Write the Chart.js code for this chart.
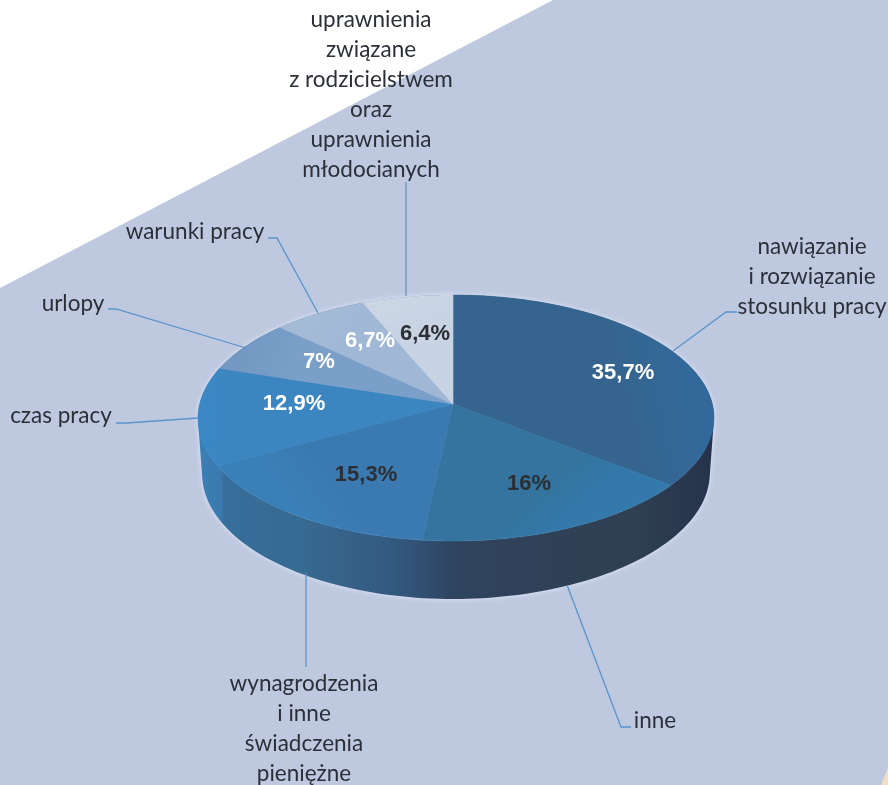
<!DOCTYPE html>
<html lang="pl">
<head>
<meta charset="utf-8">
<title>Wykres</title>
<script src="https://cdn.jsdelivr.net/npm/chart.js@4"></script>
<style>
  html, body { margin: 0; padding: 0; background: #fff; }
  canvas { display: block; }
</style>
</head>
<body>
<canvas id="pieChart" width="888" height="785"></canvas>
<script>
/* ---------- Data ---------- */
const categories = [
  'nawiązanie i rozwiązanie stosunku pracy',
  'inne',
  'wynagrodzenia i inne świadczenia pieniężne',
  'czas pracy',
  'urlopy',
  'warunki pracy',
  'uprawnienia związane z rodzicielstwem oraz uprawnienia młodocianych'
];
const shares = [35.7, 16, 15.3, 12.9, 7, 6.7, 6.4];
const sliceColors = ['#35658f', '#34749f', '#3a7ab0', '#3b85c0', '#7a9fc8', '#a0b8d5', '#c8d3e3'];
const rimColors   = ['#33699a', '#3379ac', '#3a80b8', '#3c88c4', '#7398c2', '#a3bbd7', '#cbd6e5'];
const shareTextColors = ['#fff', '#2b2f33', '#2b2f33', '#fff', '#fff', '#fff', '#2b2f33'];

/* ---------- Layout ---------- */
const sharePos = [[623, 373], [529, 484], [366, 475], [294, 404], [319, 362], [370, 341], [425, 334]];
const outerLabels = [
  { x: 812, y: 247, lines: ['nawiązanie', 'i rozwiązanie', 'stosunku pracy'] },
  { x: 655, y: 721, lines: ['inne'] },
  { x: 304, y: 684, lines: ['wynagrodzenia', 'i inne', 'świadczenia', 'pieniężne'] },
  { x: 61,  y: 416, lines: ['czas pracy'] },
  { x: 73,  y: 304, lines: ['urlopy'] },
  { x: 195, y: 232, lines: ['warunki pracy'] },
  { x: 371, y: 20,  lines: ['uprawnienia', 'związane', 'z rodzicielstwem', 'oraz', 'uprawnienia', 'młodocianych'] }
];
const leaders = [
  [[673, 351], [726, 312], [737, 312]],
  [[567, 585], [621, 727], [631, 727]],
  [[306, 573], [306, 667]],
  [[116, 423], [127, 423], [198, 418]],
  [[108, 309], [116, 309], [246, 348]],
  [[268, 238], [277, 238], [318, 313]],
  [[406, 182], [406, 296]]
];

/* ---------- Tilted disc, apex sits above the ellipse centre ---------- */
const APEX_X = 453, APEX_Y = 404, DISC_A = 256.3, DISC_B = 121.4, PERSP = 0.1138;

function rimPoint(angle, r) {
  const u = Math.cos(angle) * r, v = Math.sin(angle) * r;
  const w = 1 - PERSP * v;
  return { x: APEX_X + DISC_A * u / w + 3 * u * u, y: APEX_Y + DISC_B * v / w };
}
function floorPoint(angle) {
  const p = rimPoint(angle, 1);
  return { x: 456 + (p.x - 456) * 0.984, y: p.y + 55 + 3 * Math.sin(angle) };
}

function drawWall(ctx) {
  const wall = ctx.createLinearGradient(198, 0, 714, 0);
  [[0, '#3c80b6'], [0.045, '#3a7aae'], [0.05, '#366e9b'], [0.2, '#376a92'], [0.38, '#33597f'],
   [0.44, '#314e70'], [0.5, '#2f445e'], [0.6, '#30425a'], [0.85, '#2f4052'], [1, '#26324c']]
    .forEach(s => wall.addColorStop(s[0], s[1]));
  const steps = 240;
  ctx.beginPath();
  for (let i = 0; i < steps; i++) {
    const a = i / steps * Math.PI * 2, b = (i + 1) / steps * Math.PI * 2;
    let quad = [rimPoint(a, 1), rimPoint(b, 1), floorPoint(b), floorPoint(a)];
    // keep one winding, front and back quads overlap near the sides
    let area = 0;
    quad.forEach((p, k) => {
      const n = quad[(k + 1) % 4];
      area += p.x * n.y - n.x * p.y;
    });
    if (area < 0) quad = quad.reverse();
    quad.forEach((p, k) => k ? ctx.lineTo(p.x, p.y) : ctx.moveTo(p.x, p.y));
    ctx.closePath();
  }
  ctx.save();
  ctx.shadowColor = 'rgba(232,236,250,0.9)';
  ctx.shadowBlur = 5;
  ctx.fillStyle = wall;
  ctx.fill();
  ctx.restore();
}

function drawSlice(ctx, arc, index) {
  const steps = Math.max(6, Math.ceil((arc.endAngle - arc.startAngle) * 60));
  const mid = (arc.startAngle + arc.endAngle) / 2;
  const edge = rimPoint(mid, 1);
  const fill = ctx.createLinearGradient(APEX_X, APEX_Y, edge.x, edge.y);
  fill.addColorStop(0, arc.options.backgroundColor);
  fill.addColorStop(0.75, arc.options.backgroundColor);
  fill.addColorStop(1, rimColors[index]);
  ctx.beginPath();
  ctx.moveTo(APEX_X, APEX_Y);
  for (let i = 0; i <= steps; i++) {
    const p = rimPoint(arc.startAngle + (arc.endAngle - arc.startAngle) * i / steps, 1);
    ctx.lineTo(p.x, p.y);
  }
  ctx.closePath();
  ctx.fillStyle = fill;
  ctx.fill();
  ctx.strokeStyle = fill;
  ctx.lineWidth = 0.6;
  ctx.stroke();
}

const backdrop = {
  id: 'backdrop',
  beforeDraw(chart) {
    const ctx = chart.ctx;
    ctx.save();
    ctx.fillStyle = '#bec9e0';
    ctx.beginPath();
    ctx.moveTo(553, 0);
    ctx.lineTo(888, 0);
    ctx.lineTo(888, 785);
    ctx.lineTo(0, 785);
    ctx.lineTo(0, 288);
    ctx.closePath();
    ctx.fill();
    ctx.fillStyle = '#f6dcc4';
    ctx.beginPath();
    ctx.moveTo(888, 768);
    ctx.lineTo(881, 785);
    ctx.lineTo(888, 785);
    ctx.closePath();
    ctx.fill();
    ctx.restore();
  }
};

const disc3d = {
  id: 'disc3d',
  beforeDatasetDraw(chart, args) {
    const ctx = chart.ctx;
    ctx.save();
    drawWall(ctx);
    args.meta.data.forEach((arc, i) => drawSlice(ctx, arc, i));
    ctx.restore();
    return false;
  },
  afterDatasetsDraw(chart) {
    const ctx = chart.ctx;
    ctx.save();

    ctx.strokeStyle = '#5b94c9';
    ctx.lineWidth = 1.3;
    leaders.forEach(pts => {
      ctx.beginPath();
      pts.forEach((p, i) => i ? ctx.lineTo(p[0], p[1]) : ctx.moveTo(p[0], p[1]));
      ctx.stroke();
    });

    ctx.textAlign = 'center';
    ctx.textBaseline = 'middle';
    ctx.font = 'bold 22px "Liberation Sans", Arial, sans-serif';
    shares.forEach((v, i) => {
      ctx.fillStyle = shareTextColors[i];
      ctx.fillText(String(v).replace('.', ',') + '%', sharePos[i][0], sharePos[i][1]);
    });

    ctx.font = '22.5px Lato, "Noto Sans", sans-serif';
    ctx.fillStyle = '#2b2f38';
    outerLabels.forEach(l => {
      l.lines.forEach((t, i) => ctx.fillText(t, l.x, l.y + i * 30));
    });
    ctx.restore();
  }
};

new Chart(document.getElementById('pieChart'), {
  type: 'pie',
  data: {
    labels: categories,
    datasets: [{ data: shares, backgroundColor: sliceColors, borderWidth: 0 }]
  },
  options: {
    responsive: false,
    animation: false,
    plugins: { legend: { display: false }, tooltip: { enabled: false } }
  },
  plugins: [backdrop, disc3d]
});
</script>
</body>
</html>
